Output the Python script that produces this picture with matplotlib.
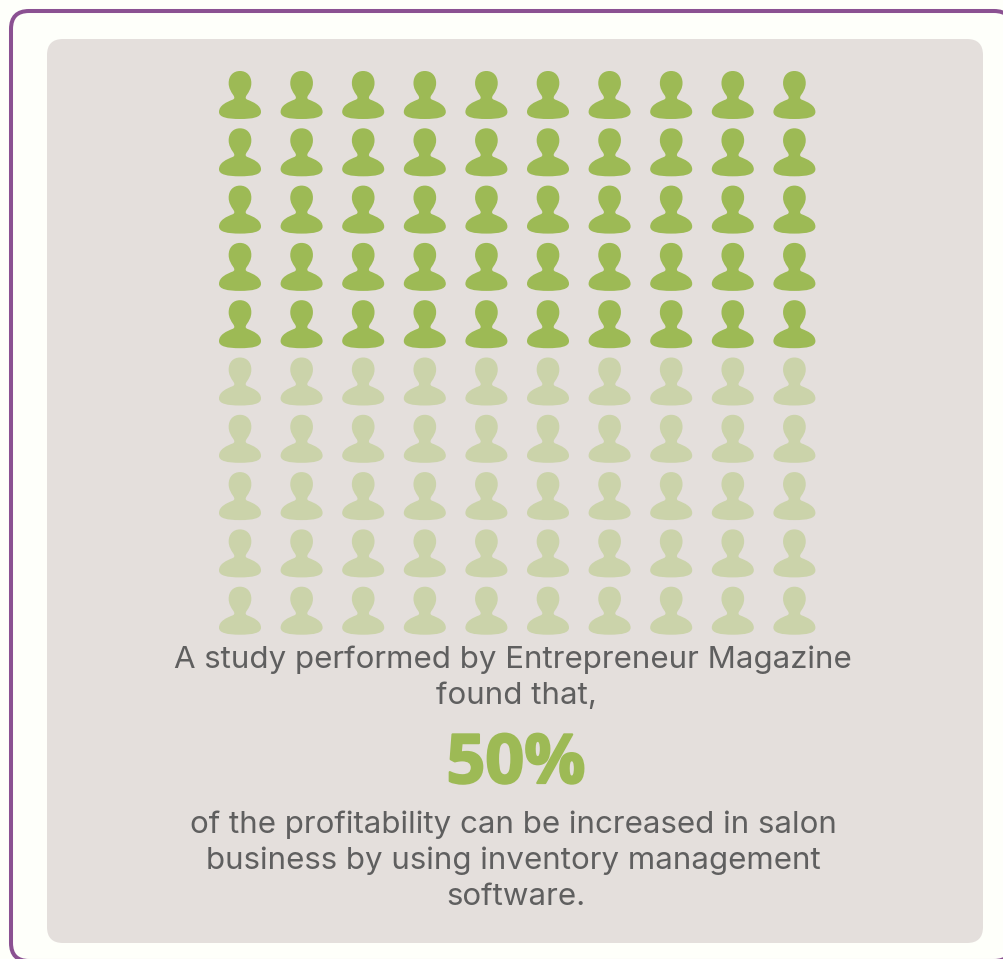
import matplotlib
matplotlib.use('Agg')
import matplotlib.pyplot as plt
from matplotlib.patches import FancyBboxPatch, PathPatch
from matplotlib.path import Path
import matplotlib.patheffects as pe

# data
percent = 50
n_rows = 10
n_cols = 10
intro_lines = ['A study performed by Entrepreneur Magazine', 'found that,']
outro_lines = ['of the profitability can be increased in salon',
               'business by using inventory management',
               'software.']

GREEN = '#9DBA55'
PALE = '#CBD3AA'
TEXT = '#5F5F5F'
BG = '#FEFFFA'
BODY_FONT = ['Inter', 'DejaVu Sans']


def person_path(cx, top, scale=1 / 3):
    """Bust icon, symmetrical about cx, y growing downwards."""
    right = [
        (Path.MOVETO, (0, 0)),
        (Path.CURVE4, (20, 0)), (Path.CURVE4, (34, 14)), (Path.CURVE4, (34, 36)),
        (Path.CURVE4, (34, 52)), (Path.CURVE4, (27, 62)), (Path.CURVE4, (21, 71)),
        (Path.CURVE4, (16, 78)), (Path.CURVE4, (15, 83)), (Path.CURVE4, (22, 86)),
        (Path.CURVE4, (40, 93)), (Path.CURVE4, (63, 103)), (Path.CURVE4, (63, 123)),
        (Path.CURVE4, (63, 139)), (Path.CURVE4, (38, 144)), (Path.CURVE4, (0, 144)),
    ]
    codes = [c for c, _ in right]
    pts = [p for _, p in right]
    # mirror the right half back up to the top of the head
    for c, p in zip(codes[:0:-1], pts[-2::-1]):
        codes.append(c)
        pts.append((-p[0], p[1]))
    codes.append(Path.CLOSEPOLY)
    pts.append((0, 0))
    return Path([(cx + x * scale, top + y * scale) for x, y in pts], codes)


fig = plt.figure(figsize=(10.04, 9.59), dpi=100, facecolor=BG)
ax = fig.add_axes([0, 0, 1, 1])
ax.set_xlim(0, 1004)
ax.set_ylim(959, 0)
ax.axis('off')

# outer card runs off the right and bottom edges
ax.add_patch(FancyBboxPatch((29, 29), 965, 914, boxstyle='round,pad=18,rounding_size=18',
                            fc=BG, ec='#8B5192', lw=2.9))
# inner panel
ax.add_patch(FancyBboxPatch((63, 55), 904, 872, boxstyle='round,pad=16,rounding_size=16',
                            fc='#E4DFDC', ec='none'))

# pictogram, one icon per percent
filled = percent * n_rows * n_cols // 100
for i in range(n_rows * n_cols):
    row, col = divmod(i, n_cols)
    path = person_path(240 + col * 61.6, 71 + row * 57.3)
    ax.add_patch(PathPatch(path, fc=GREEN if i < filled else PALE, ec='none'))

for line, x, y in zip(intro_lines, [513, 516], [668, 704]):
    ax.text(x, y, line, ha='center', va='baseline', fontsize=22.5, color=TEXT, family=BODY_FONT)

big = ax.text(516, 783, f'{percent}%', ha='center', va='baseline', fontsize=49, fontweight='bold',
              color=GREEN, family=['Open Sans', 'DejaVu Sans'])
big.set_path_effects([pe.withStroke(linewidth=1.6, foreground=GREEN)])

for line, x, y in zip(outro_lines, [513, 513, 516], [833, 869, 905]):
    ax.text(x, y, line, ha='center', va='baseline', fontsize=22.5, color=TEXT, family=BODY_FONT)

fig.savefig('out.png', dpi=100, facecolor=fig.get_facecolor())
